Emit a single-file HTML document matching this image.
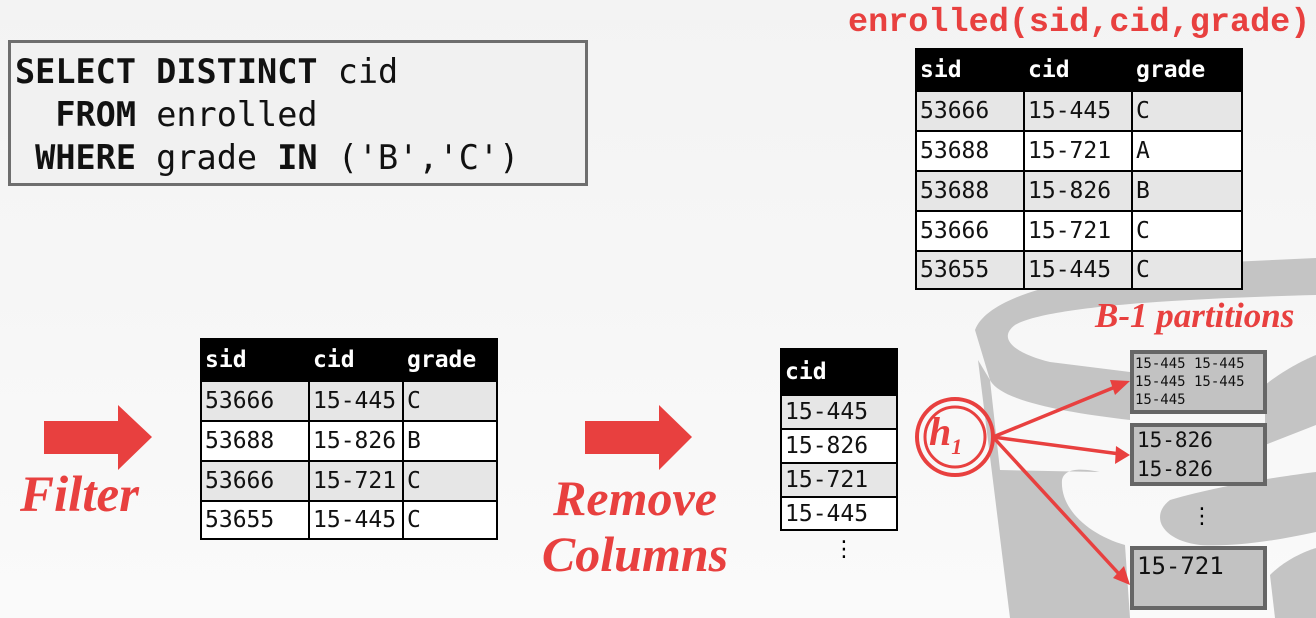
<!DOCTYPE html>
<html><head><style>
body{margin:0;width:1316px;height:618px;overflow:hidden;background:linear-gradient(#f3f3f3,#fafafa);position:relative;font-family:"Liberation Mono",monospace}
.a{position:absolute}
table{position:absolute;border-collapse:collapse;font-family:"DejaVu Sans Mono","Liberation Mono",monospace;font-size:23px;color:#111}
td,th{border:2px solid #000;padding:0 3px;text-align:left;white-space:nowrap}
th{background:#000;color:#fff;font-weight:bold}
tr.g td{background:#e6e6e6}
tr.w td{background:#fff}
.red{color:#e8403f}
.ser{font-family:"Liberation Serif",serif;font-style:italic;font-weight:bold;color:#e8403f}
</style></head><body>
<svg class="a" style="left:0;top:0" width="1316" height="618">
<g fill="#c4c4c4">
<path d="M975 330 C990 290 1100 270 1230 262 L1316 258 L1316 295 C1200 298 1050 305 1015 325 C995 340 1020 355 1050 362 L1130 372 L1130 420 C1060 412 1000 400 990 380 Z"/>
<path d="M978 360 L1010 618 L1130 618 L1125 545 C1090 535 1060 510 1062 480 C1065 465 1090 470 1100 472 L1000 470 L990 380 Z"/>
<path d="M1265 385 C1290 365 1316 355 1316 355 L1316 425 L1265 445 Z"/>
<path d="M1170 500 C1230 482 1316 472 1316 472 L1316 532 C1270 542 1230 547 1200 545 C1160 540 1150 515 1170 500 Z"/>
<path d="M1270 575 C1290 555 1316 548 1316 548 L1316 618 L1275 618 Z"/>
</g>
<polygon points="44,421 118,421 118,405 152,437 118,470 118,454 44,454" fill="#e8403f"/>
<polygon points="585,421 659,421 659,405 692,437 659,470 659,454 585,454" fill="#e8403f"/>
<circle cx="955" cy="437" r="38" fill="none" stroke="#e8403f" stroke-width="4"/>
<circle cx="955" cy="437" r="30" fill="none" stroke="#e8403f" stroke-width="3"/>
<g stroke="#e8403f" stroke-width="3.5" fill="#e8403f">
<line x1="993" y1="437" x2="1120" y2="385"/>
<line x1="993" y1="437" x2="1120" y2="454"/>
<line x1="993" y1="437" x2="1120" y2="575"/>
<polygon points="1130,381 1115,395 1110,380" stroke="none"/>
<polygon points="1130,455 1115,464 1116,446" stroke="none"/>
<polygon points="1130,585 1113,578 1124,566" stroke="none"/>
</g>
<g fill="#c2c2c2" stroke="#666" stroke-width="4">
<rect x="1132" y="352" width="133" height="60"/>
<rect x="1132" y="425" width="133" height="59"/>
<rect x="1132" y="548" width="133" height="60"/>
</g>
</svg>
<div class="a" style="left:8px;top:40px;width:580px;height:146px;border:3px solid #6e6e6e;background:#f1f1f1;box-sizing:border-box"></div>
<pre class="a" style="left:15px;top:50px;margin:0;font-size:33.5px;line-height:43px;color:#111"><b>SELECT DISTINCT</b> cid
  <b>FROM</b> enrolled
 <b>WHERE</b> grade <b>IN</b> ('B','C')</pre>
<div class="a red" style="left:848px;top:0;font-size:33.5px;font-weight:bold;line-height:46px">enrolled(sid,cid,grade)</div>
<table style="left:915px;top:48px;width:328px">
<tr style="height:42px"><th style="width:100px">sid</th><th style="width:100px">cid</th><th>grade</th></tr>
<tr class="g" style="height:40px"><td>53666</td><td>15-445</td><td>C</td></tr>
<tr class="w" style="height:40px"><td>53688</td><td>15-721</td><td>A</td></tr>
<tr class="g" style="height:40px"><td>53688</td><td>15-826</td><td>B</td></tr>
<tr class="w" style="height:40px"><td>53666</td><td>15-721</td><td>C</td></tr>
<tr class="g" style="height:38px"><td>53655</td><td>15-445</td><td>C</td></tr>
</table>
<table style="left:200px;top:338px;width:298px">
<tr style="height:42px"><th style="width:100px">sid</th><th style="width:86px">cid</th><th>grade</th></tr>
<tr class="g" style="height:40px"><td>53666</td><td>15-445</td><td>C</td></tr>
<tr class="w" style="height:40px"><td>53688</td><td>15-826</td><td>B</td></tr>
<tr class="g" style="height:40px"><td>53666</td><td>15-721</td><td>C</td></tr>
<tr class="w" style="height:38px"><td>53655</td><td>15-445</td><td>C</td></tr>
</table>
<table style="left:780px;top:348px;width:118px">
<tr style="height:46px"><th>cid</th></tr>
<tr class="g" style="height:34px"><td>15-445</td></tr>
<tr class="w" style="height:34px"><td>15-826</td></tr>
<tr class="g" style="height:34px"><td>15-721</td></tr>
<tr class="w" style="height:33px"><td>15-445</td></tr>
</table>
<div class="a" style="left:833px;top:540px;font-size:22px;line-height:20px;font-family:'DejaVu Sans'">⋮</div>
<div class="a" style="left:1191px;top:507px;font-size:22px;line-height:20px;font-family:'DejaVu Sans'">⋮</div>
<div class="a ser" style="left:20px;top:466px;font-size:51px">Filter</div>
<div class="a ser" style="left:530px;top:470px;font-size:50px;line-height:56px;text-align:center;width:210px">Remove<br>Columns</div>
<div class="a ser" style="left:1095px;top:296px;font-size:35px">B-1 partitions</div>
<div class="a ser" style="left:929px;top:408px;font-size:40px;color:#e8403f">h<sub style="font-size:22px">1</sub></div>
<div class="a" style="left:1135px;top:355px;font-family:'DejaVu Sans Mono',monospace;font-size:14px;line-height:18px;color:#111;white-space:pre">15-445 15-445
15-445 15-445
15-445</div>
<div class="a" style="left:1137px;top:426px;font-family:'DejaVu Sans Mono',monospace;font-size:21px;line-height:29px;color:#111">15-826<br>15-826</div>
<div class="a" style="left:1137px;top:551px;font-family:'DejaVu Sans Mono',monospace;font-size:24px;line-height:30px;color:#111">15-721</div>
</body></html>
